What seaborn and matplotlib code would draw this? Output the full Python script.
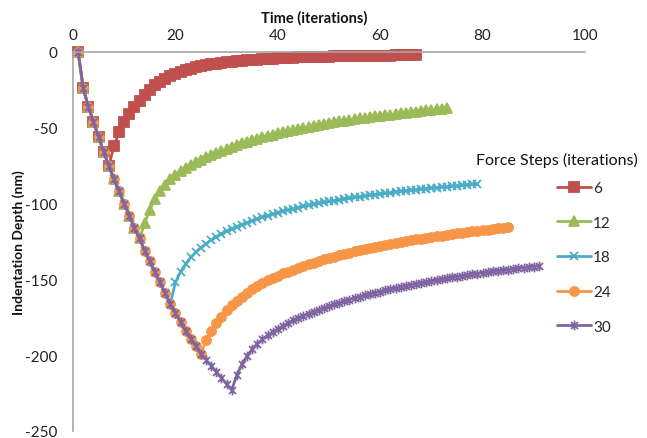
import matplotlib
matplotlib.use("Agg")
import matplotlib.pyplot as plt
from matplotlib.path import Path
import seaborn as sns
import pandas as pd

# ---------------- data ----------------
force_steps = [6, 12, 18, 24, 30]

# shared loading curve, t = 1 .. 31
loading_depth = [0, -24, -36, -46, -56, -66, -75, -84, -92, -100, -108, -116, -123,
                 -131, -138, -145, -152, -159, -166, -172, -178, -184, -189, -194,
                 -199, -203, -207, -211, -215, -219, -223]

# relaxation after force steps end (60 iterations each)
relax_6 = [-62, -53, -46.5, -41, -36, -32, -28.5, -25, -22, -19.5, -17.5, -15.7, -14.2,
           -12.9, -11.8, -10.9, -10.1, -9.4, -8.8, -8.2, -7.7, -7.2, -6.8, -6.4, -6.1,
           -5.8, -5.5, -5.2, -5.0, -4.8, -4.6, -4.4, -4.2,
           -3.9, -3.8, -3.7, -3.6, -3.5, -3.4, -3.3, -3.2, -3.1, -3.0, -2.95, -2.9,
           -2.85, -2.8, -2.75, -2.7, -2.6, -2.55, -2.5, -2.45, -2.4, -2.35, -2.3, -2.2,
           -2.1, -2.0, -1.9]
relax_12 = [-113, -104, -97, -92, -87.5, -84, -81, -78.5, -76.5, -74.5, -72.5, -71, -69.5,
            -68, -66.5, -65, -63.8, -62.6, -61.4, -60.3, -59.2, -58.2, -57.2, -56.3, -55.4,
            -54.5, -53.7, -52.9, -52.1, -51.4, -50.7, -50.0, -49.3, -48.7, -48.1, -47.5,
            -46.9, -46.3, -45.8, -45.3, -44.8, -44.3, -43.8, -43.3, -42.9, -42.5, -42.1,
            -41.7, -41.3, -40.9, -40.5, -40.1, -39.7, -39.3, -38.9, -38.5, -38.1, -37.7,
            -37.3, -36.9]
relax_18 = [-152, -145, -140, -135.5, -132, -129, -126.5, -124, -122, -120, -118.3, -116.7,
            -115.2, -113.8, -112.5, -111.3, -110.1, -109, -108, -107, -106, -105.1, -104.3,
            -103.5, -102.7, -101.9, -101.2, -100.5, -99.8, -99.2, -98.6, -98.0, -97.4,
            -96.9, -96.4, -95.9, -95.4, -94.9, -94.4, -94.0, -93.6, -93.2, -92.8, -92.4,
            -92.0, -91.6, -91.2, -90.8, -90.4, -90.1, -89.8, -89.5, -89.2, -88.9, -88.6,
            -88.3, -88.0, -87.7, -87.4, -87.1]
relax_24 = [-190, -184, -179, -174.5, -170.5, -167, -164, -161.3, -158.8, -156.5, -154.4,
            -152.4, -150.6, -149, -147.5, -146.1, -144.8, -143.5, -142.3, -141.1, -140,
            -138.9, -137.8, -136.8, -135.8, -134.9, -134, -133.1, -132.3, -131.5, -130.7,
            -130, -129.3, -128.6, -127.9, -127.2, -126.6, -126, -125.4, -124.8, -124.2,
            -123.6, -123.1, -122.6, -122.1, -121.6, -121.1, -120.6, -120.1, -119.6, -119.2,
            -118.8, -118.4, -118, -117.6, -117.2, -116.8, -116.4, -116, -115.6]
relax_30 = [-213, -206, -200.5, -196, -192.5, -189.5, -187, -184.7, -182.6, -180.6, -178.8,
            -177.1, -175.5, -174, -172.6, -171.2, -169.9, -168.7, -167.5, -166.4, -165.3,
            -164.3, -163.3, -162.3, -161.4, -160.5, -159.6, -158.8, -158, -157.2, -156.4,
            -155.7, -155, -154.3, -153.6, -152.9, -152.3, -151.7, -151.1, -150.5, -149.9,
            -149.3, -148.7, -148.2, -147.7, -147.2, -146.7, -146.2, -145.7, -145.2, -144.7,
            -144.3, -143.9, -143.5, -143.1, -142.7, -142.3, -141.9, -141.5, -141.1]
relaxations = [relax_6, relax_12, relax_18, relax_24, relax_30]

x_ticks = [0, 20, 40, 60, 80, 100]
y_ticks = [0, -50, -100, -150, -200, -250]

# ---------------- style ----------------
sns.set_style("white")
plt.rcParams["font.family"] = ["Lato", "DejaVu Sans"]
plt.rcParams["axes.unicode_minus"] = False

colors = ["#C0504D", "#9BBB59", "#4BACC6", "#F79646", "#8064A2"]
star = Path([(0, -1), (0, 1), (-0.72, -0.72), (0.72, 0.72), (-0.72, 0.72), (0.72, -0.72)],
            [Path.MOVETO, Path.LINETO, Path.MOVETO, Path.LINETO, Path.MOVETO, Path.LINETO])
markers = ["s", "^", "x", "o", star]
msizes = [6.5, 7, 6, 6.5, 7]

rows = []
for n, rel in zip(force_steps, relaxations):
    depth = loading_depth[:n + 1] + rel
    for i, d in enumerate(depth):
        rows.append({"Force": n, "Time": i + 1, "Depth": d})
df = pd.DataFrame(rows)

fig = plt.figure(figsize=(6.47, 4.39), dpi=100)
ax = fig.add_axes([73 / 647, 1 - 432 / 439, 512 / 647, 379 / 439])

for n, c, m, ms in zip(force_steps, colors, markers, msizes):
    sub = df[df["Force"] == n]
    sns.lineplot(data=sub, x="Time", y="Depth", ax=ax, color=c, marker=m,
                 markersize=ms, mec=c, mfc=c, mew=1.3, lw=2.0, label=str(n),
                 estimator=None, sort=False, clip_on=False)

ax.set_xlim(0, 100)
ax.set_ylim(-250, 0)
ax.set_xticks(x_ticks)
ax.set_yticks(y_ticks)
ax.xaxis.tick_top()
ax.xaxis.set_label_position("top")
ax.tick_params(axis="both", length=0, labelsize=11, colors="#222222")
ax.tick_params(axis="x", pad=7)
ax.tick_params(axis="y", pad=11)

for s in ["right", "bottom"]:
    ax.spines[s].set_visible(False)
for s in ["top", "left"]:
    ax.spines[s].set_color("#A6A6A6")
    ax.spines[s].set_linewidth(1.2)

ax.set_xlabel("Time (iterations)", fontsize=10.5, fontweight="bold", color="#111111",
              va="center")
ax.set_ylabel("Indentation Depth (nm)", fontsize=10, fontweight="bold", color="#111111",
              va="center")
ax.xaxis.set_label_coords(0.471, 1 + 35 / 379)
ax.yaxis.set_label_coords(-0.107, 0.5)

handles, labels = ax.get_legend_handles_labels()
leg = ax.legend(handles, labels, loc="upper left", bbox_to_anchor=(557 / 647, 1 - 182 / 439),
                bbox_transform=fig.transFigure, frameon=False, fontsize=11,
                handlelength=2.2, handletextpad=0.15, labelspacing=1.35,
                borderpad=0, borderaxespad=0)
fig.text(557 / 647, 1 - 160 / 439, "Force Steps (iterations)", ha="center", va="center",
         fontsize=11.5, color="#111111")

fig.savefig("out.png", dpi=100)
